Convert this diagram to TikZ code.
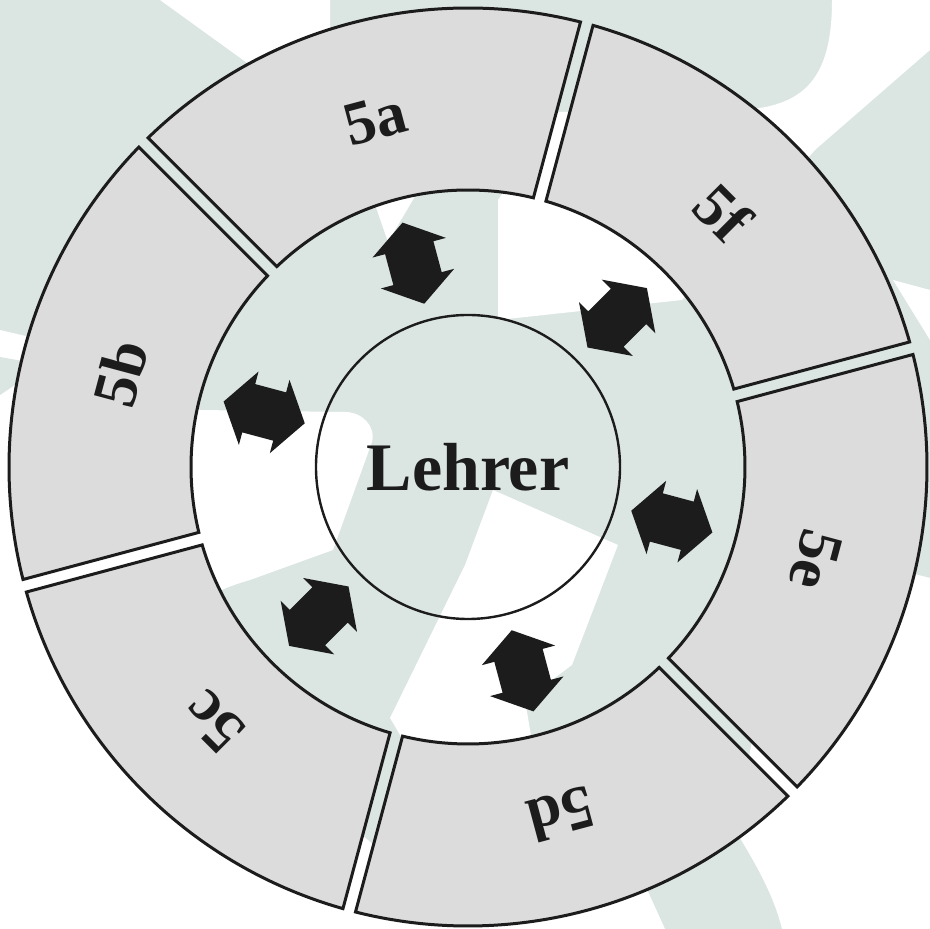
\documentclass[tikz,border=0pt]{standalone}
\usepackage{fontspec}
\setmainfont{Liberation Serif}
\definecolor{Blatt}{RGB}{219,230,226}
\definecolor{Feld}{RGB}{220,220,220}
\definecolor{Tinte}{RGB}{28,28,28}

\begin{document}
\begin{tikzpicture}[x=0.5pt, y=0.5pt,
    segment/.style={draw=Tinte, line width=1.5pt, fill=Feld},
    klasse/.style={text=Tinte, font=\fontsize{31}{31}\selectfont\bfseries},
    pfeil/.style={fill=Tinte}]
  \useasboundingbox (-468,-462) rectangle (462,467);
  \begin{scope}[shift={(-468,467)}, yscale=-1]
    \fill[Blatt] (0,0) rectangle (930,929);
    \fill[white] (160,0) -- (330,0) -- (330,40) -- (250,65) -- cycle;
    \fill[white] (498,320) -- (498,200) -- (556,112) -- (760,108) .. controls (810,100) and (832,70) .. (832,0) -- (930,0) -- (930,50) -- (815,150) -- (682,300) -- cycle;
    \fill[white] (370,190) -- (420,188) -- (388,242) -- cycle;
    \fill[white] (893,280) -- (930,290) -- (930,340) -- cycle;
    \fill[white] (930,578) -- (880,565) -- (760,700) -- (735,830) .. controls (760,870) and (775,900) .. (782,929) -- (930,929) -- cycle;
    \fill[white] (0,330) -- (150,365) -- (200,410) -- (345,412) .. controls (362,412) and (376,426) .. (372,442) -- (333,550) -- (250,580) .. controls (215,590) and (200,600) .. (185,620) -- (100,745) -- (0,745) -- cycle;
    \fill[Blatt] (0,357) -- (45,365) -- (0,395) -- cycle;
    \fill[white] (0,600) -- (30,560) -- (380,850) -- (600,800) -- (645,885) -- (665,929) -- (0,929) -- cycle;
    \fill[white] (493,490) -- (618,545) -- (572,665) -- (525,700) -- (535,760) -- (415,760) -- (390,718) -- (465,565) -- cycle;
  \end{scope}
  \foreach \a/\k in {105/5a, 165/5b, 225/5c, 285/5d, 345/5e, 45/5f} {
    \draw[segment] (\a-29.19:459) arc[start angle=\a-29.19, end angle=\a+29.19, radius=459]
      -- (\a+28.66:277) arc[start angle=\a+28.66, end angle=\a-28.66, radius=277] -- cycle;
    \node[klasse, rotate=\a-90] (k\k) at (\a:360) {\k};
  }
  \foreach \a in {45,105,...,345}
    \fill[pfeil, rotate=\a, shift={(211,0)}] (42,0) -- (16,38) -- (16,25) -- (-16,25) -- (-16,38) -- (-42,0) -- (-16,-38) -- (-16,-25) -- (16,-25) -- (16,-38) -- cycle;
  \draw[Tinte, line width=1.2pt] (0,0) circle (152);
  \node[text=Tinte, font=\fontsize{34}{34}\selectfont\bfseries] (lehrer) at (0,0) {Lehrer};
\end{tikzpicture}
\end{document}
